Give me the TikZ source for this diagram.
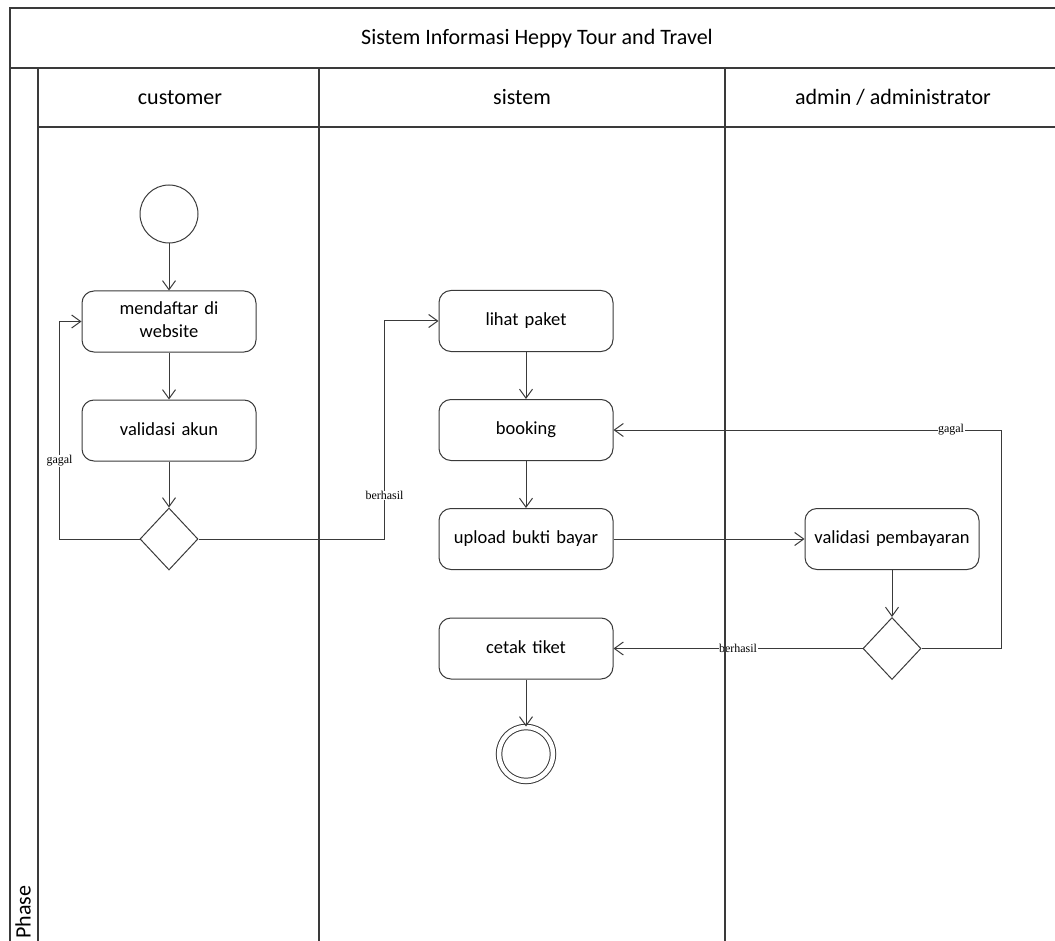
\documentclass[tikz,border=0pt]{standalone}
\usepackage{fontspec}
\setmainfont{Carlito}
\newfontfamily\lblfont{Liberation Serif}
\usepackage{xcolor}
\usetikzlibrary{shapes.geometric, arrows.meta, positioning}

\definecolor{lineclr}{HTML}{3A3A3A}

\begin{document}
\begin{tikzpicture}[x=1pt, y=-1pt, line width=1pt, draw=lineclr]
\tikzstyle{act} = [rectangle, rounded corners=12pt, draw=lineclr, minimum width=174pt, minimum height=61pt, text width=165pt, align=center, font=\fontsize{18.5}{23}\selectfont, execute at begin node=\strut, execute at end node=\strut]
\tikzstyle{dec} = [diamond, draw=lineclr, minimum width=58pt, minimum height=62pt, inner sep=0pt]
\tikzstyle{arr} = [draw=lineclr, -{Straight Barb[length=9pt, width=13pt]}]
\tikzstyle{lbl} = [fill=white, inner sep=0.5pt, font=\lblfont\fontsize{12}{13}\selectfont]
\tikzstyle{lane} = [draw=lineclr, line width=1.1pt]
\tikzstyle{head} = [font=\fontsize{22}{26}\selectfont, anchor=base]

\useasboundingbox (0,0) rectangle (1055,941);

% customer
\node (start) [circle, draw=lineclr, minimum size=58pt] at (169,214) {};
\node (daftar) [act, below=47pt of start] {mendaftar di\\website};
\node (akun) [act, below=47pt of daftar] {validasi akun};
\node (d1) [dec, below=46pt of akun] {};

% sistem
\node (lihat) [act] at (526,321) {lihat paket};
\node (booking) [act, below=47pt of lihat] {booking};
\node (upload) [act, below=47pt of booking] {upload bukti bayar};

% admin
\node (valbayar) [act, right=191pt of upload] {validasi pembayaran};
\node (d2) [dec, below=47pt of valbayar] {};

\node (cetak) [act] at (upload |- d2) {cetak tiket};
\node (stop) [circle, draw=lineclr, double, double distance=4.5pt, minimum size=54pt, below=47pt of cetak] {};

% flows
\draw[arr] (start) -- (daftar);
\draw[arr] (daftar) -- (akun);
\draw[arr] (akun) -- (d1);
\draw[arr] (d1.west) -- ++(-80,0) |- node[lbl, pos=0.18] {gagal} (daftar.west);
\draw[arr] (d1.east) -- ++(186,0) |- node[lbl, pos=0.1] {berhasil} (lihat.west);
\draw[arr] (lihat) -- (booking);
\draw[arr] (booking) -- (upload);
\draw[arr] (upload) -- (valbayar);
\draw[arr] (valbayar) -- (d2);
\draw[arr] (d2.east) -- ++(80,0) |- node[lbl, pos=0.565] {gagal} (booking.east);
\draw[arr] (d2.west) -- node[lbl, pos=0.5] {berhasil} (cetak.east);
\draw[arr] (cetak) -- (stop);

% swimlanes
\draw[lane] (1055,8) -- (10,8) -- (10,941);
\draw[lane] (10,68) -- (1055,68);
\draw[lane] (38,127) -- (1055,127);
\draw[lane] (38,68) -- (38,941);
\draw[lane] (319,68) -- (319,941);
\draw[lane] (725,68) -- (725,941);
\node (title) [head] at (537,45) {Sistem Informasi Heppy Tour and Travel};
\node (hcust) [head] at (180,105) {customer};
\node (hsis) [head] at (522,105) {sistem};
\node (hadm) [head] at (893,105) {admin / administrator};
\node (phase) [font=\fontsize{22}{26}\selectfont, rotate=90, anchor=west, inner sep=1pt, text depth=0pt] at (23,940) {Phase};

\end{tikzpicture}
\end{document}
